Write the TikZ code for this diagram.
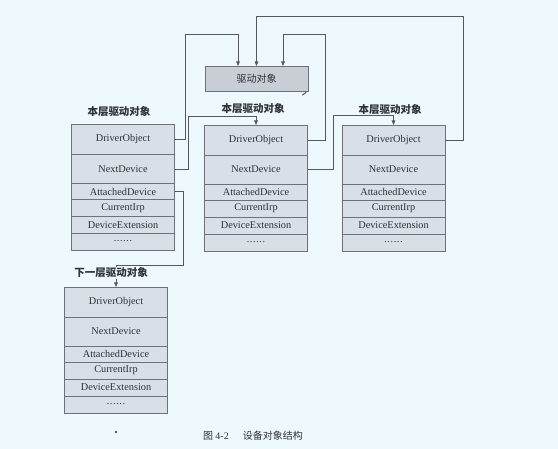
\documentclass[tikz,border=0pt]{standalone}
\usepackage{fontspec}
\setmainfont{Liberation Serif}
\newfontfamily\cjk{Noto Sans CJK SC}
\usetikzlibrary{arrows.meta}
\definecolor{bgc}{HTML}{EEF9FD}
\definecolor{cellc}{HTML}{D9DFE7}
\definecolor{drvc}{HTML}{C9CDD5}
\definecolor{edgec}{HTML}{6E7278}
\definecolor{linec}{HTML}{55595E}
\definecolor{txtc}{HTML}{2E3236}
\tikzset{
  cell/.style={draw=edgec, fill=cellc, line width=0.6pt, minimum width=103, inner sep=1pt, outer sep=0pt, text=txtc, font=\fontsize{10.3}{11}\selectfont},
  drvbox/.style={draw=edgec, fill=drvc, line width=0.6pt, minimum width=103, minimum height=25, inner sep=1pt, outer sep=0pt, text=txtc, font=\cjk\fontsize{10}{11}\selectfont},
  ttl/.style={text=txtc, font=\cjk\bfseries\fontsize{10.5}{12}\selectfont, inner sep=0pt},
  conn/.style={draw=linec, line width=0.6pt},
  arr/.style={conn, -{Triangle[length=4.5pt,width=3.6pt]}}
}
\newcommand\dotrow{.\kern0.6pt.\kern0.6pt.\kern0.6pt.\kern0.6pt.\kern0.6pt.}
\newcommand\devobj[3]{%
  \node[cell, minimum height=30, anchor=north] (#1a) at (#2,#3) {DriverObject};
  \node[cell, minimum height=29, anchor=north] (#1b) at (#1a.south) {NextDevice};
  \node[cell, minimum height=16, anchor=north] (#1c) at (#1b.south) {AttachedDevice};
  \node[cell, minimum height=17, anchor=north] (#1d) at (#1c.south) {CurrentIrp};
  \node[cell, minimum height=17, anchor=north] (#1e) at (#1d.south) {DeviceExtension};
  \node[cell, minimum height=17, anchor=north] (#1f) at (#1e.south) {\raisebox{0.3ex}{\dotrow}};
}
\begin{document}
\begin{tikzpicture}[x=1pt, y=-1pt]
\fill[bgc] (0,0) rectangle (558,449);
\useasboundingbox (0,0) rectangle (558,449);

% driver object box
\node[drvbox] (drv) at (256.5,78.5) {驱动对象};
\draw[linec, line width=1.1pt, line cap=round] (302.5,95) .. controls (304,93.5) .. (306,92.5);

% device boxes
\devobj{p}{123}{124.5}
\devobj{q}{256}{125}
\devobj{r}{393.5}{125}
\devobj{s}{116}{287}

% titles
\node[ttl] (t1) at (119,112) {本层驱动对象};
\node[ttl] (t2) at (253,109) {本层驱动对象};
\node[ttl] (t3) at (390,110) {本层驱动对象};

% connectors
\draw[arr] (pa.east) -| (185,34) -| ([xshift=-18.5]drv.north);
\draw[arr] (ra.east) -| (463,16) -| (drv.north);
\draw[arr] (qa.east) -| (325,34) -| ([xshift=26.5]drv.north);
\draw[arr] (pb.east) -| (188,116) -| (qa.north);
\draw[arr] (qb.east) -| (333,115) -| (ra.north);
\draw[arr] (pc.east) -| (183,265) -| (sa.north);

\node[ttl, fill=bgc, inner sep=0.5pt] (t4) at (111,273) {下一层驱动对象};

% dot and caption
\fill[linec] (116,432) circle (1.3);
\node[anchor=west, text=txtc, font=\cjk\fontsize{10}{12}\selectfont, inner sep=0pt] (cap) at (203,436) {图 {\rmfamily 4-2}\hspace{1.4em}设备对象结构};
\end{tikzpicture}
\end{document}
